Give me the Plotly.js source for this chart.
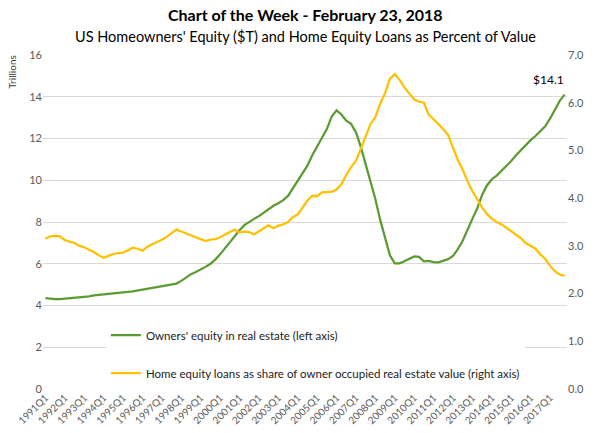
<!DOCTYPE html>
<html>
<head>
<meta charset="utf-8">
<script src="https://cdn.plot.ly/plotly-3.0.1.min.js"></script>
<style>
  html, body { margin: 0; padding: 0; background: #fff; }
  #plot { width: 600px; height: 433px; }
</style>
</head>
<body>
<div id="plot"></div>
<script>
// quarters 1991Q1 .. 2017Q4
const firstYear = 1991;
const lastYear = 2017;
let quarters = [];
for (let y = firstYear; y <= lastYear; y++) {
    for (let q = 1; q <= 4; q++) quarters.push(y + 'Q' + q);
}
const tickQuarters = quarters.filter(q => q.endsWith('Q1'));

// owners' equity in real estate, trillions $ (left axis)
const ownersEquity = [
    4.35, 4.32, 4.30, 4.31, 4.33, 4.35, 4.37, 4.41, 4.40, 4.44,
    4.48, 4.50, 4.53, 4.57, 4.59, 4.61, 4.62, 4.65, 4.68, 4.72,
    4.76, 4.80, 4.84, 4.87, 4.90, 4.95, 5.00, 5.05, 5.18, 5.35,
    5.50, 5.60, 5.72, 5.85, 6.00, 6.20, 6.45, 6.75, 7.05, 7.35,
    7.60, 7.85, 8.02, 8.15, 8.28, 8.45, 8.62, 8.78, 8.90, 9.05,
    9.25, 9.60, 9.95, 10.35, 10.70, 11.20, 11.60, 12.00, 12.45, 13.05,
    13.35, 13.15, 12.85, 12.70, 12.30, 11.60, 10.75, 9.95, 9.10, 8.10,
    7.20, 6.40, 6.02, 6.02, 6.12, 6.22, 6.35, 6.33, 6.12, 6.14,
    6.08, 6.07, 6.15, 6.22, 6.37, 6.70, 7.10, 7.65, 8.15, 8.65,
    9.30, 9.75, 10.05, 10.22, 10.45, 10.68, 10.92, 11.20, 11.45, 11.70,
    11.92, 12.12, 12.33, 12.58, 12.95, 13.35, 13.80, 14.10
];

// home equity loans as % of owner occupied real estate value (right axis)
const equityLoansPct = [
    3.15, 3.20, 3.21, 3.20, 3.12, 3.09, 3.06, 3.00, 2.97, 2.92,
    2.87, 2.80, 2.75, 2.79, 2.83, 2.85, 2.86, 2.91, 2.96, 2.94,
    2.90, 2.98, 3.03, 3.07, 3.13, 3.19, 3.27, 3.34, 3.30, 3.26,
    3.22, 3.18, 3.15, 3.10, 3.13, 3.14, 3.18, 3.24, 3.29, 3.34,
    3.28, 3.30, 3.29, 3.24, 3.30, 3.37, 3.43, 3.37, 3.42, 3.45,
    3.50, 3.60, 3.66, 3.80, 3.95, 4.05, 4.04, 4.12, 4.12, 4.13,
    4.18, 4.29, 4.48, 4.65, 4.78, 5.05, 5.30, 5.55, 5.70, 5.98,
    6.20, 6.50, 6.60, 6.48, 6.32, 6.20, 6.07, 6.02, 6.00, 5.75,
    5.65, 5.57, 5.45, 5.32, 5.05, 4.80, 4.60, 4.35, 4.15, 3.98,
    3.80, 3.67, 3.57, 3.50, 3.45, 3.38, 3.30, 3.22, 3.16, 3.06,
    3.00, 2.94, 2.82, 2.73, 2.58, 2.47, 2.40, 2.37
];

const leftTicks = [0, 2, 4, 6, 8, 10, 12, 14, 16];
const rightTicks = [0, 1, 2, 3, 4, 5, 6, 7];

const font = 'Lato, "Open Sans", sans-serif';
const green = '#5b9b31';
const gold = '#ffc000';

let equityTrace = {
    x: quarters,
    y: ownersEquity,
    type: 'scatter',
    mode: 'lines',
    name: "Owners' equity in real estate (left axis)",
    line: {color: green, width: 2.25},
    legendgroup: 'a',
    hoverinfo: 'x+y'
};
let loansTrace = {
    x: quarters,
    y: equityLoansPct,
    type: 'scatter',
    mode: 'lines',
    yaxis: 'y2',
    name: 'Home equity loans as share of owner occupied real estate value (right axis)',
    line: {color: gold, width: 2.25},
    legendgroup: 'b',
    hoverinfo: 'x+y'
};

let last = quarters.length - 1;

let layout = {
    width: 600,
    height: 433,
    paper_bgcolor: '#fff',
    plot_bgcolor: '#fff',
    font: {family: font, color: '#595959', size: 11},
    margin: {l: 43, r: 33, t: 55, b: 44},
    showlegend: true,
    legend: {
        x: 0.12, y: 0.205, xanchor: 'left', yanchor: 'top',
        bgcolor: '#fff',
        font: {family: font, size: 11.5, color: '#222'},
        traceorder: 'grouped',
        tracegroupgap: 19,
        itemwidth: 30
    },
    xaxis: {
        type: 'category',
        range: [-0.5, last + 0.5],
        tickvals: tickQuarters,
        ticktext: tickQuarters,
        tickangle: -45,
        tickfont: {size: 10, color: '#595959'},
        showgrid: false,
        showline: false,
        ticks: '',
        zeroline: false
    },
    yaxis: {
        range: [0, 16],
        tickvals: leftTicks,
        showgrid: true,
        gridcolor: '#d9d9d9',
        gridwidth: 1,
        zeroline: false,
        showline: false,
        ticks: '',
        tickfont: {size: 11, color: '#595959'}
    },
    yaxis2: {
        overlaying: 'y',
        side: 'right',
        range: [0, 7],
        tickvals: rightTicks,
        tickformat: '.1f',
        ticksuffix: '%',
        showgrid: false,
        zeroline: false,
        showline: false,
        ticks: '',
        tickfont: {size: 11, color: '#595959'}
    },
    annotations: [
        {
            text: '<b>Chart of the Week - February 23, 2018</b>',
            xref: 'paper', yref: 'paper', x: 0.5, y: 1, yshift: 41,
            xanchor: 'center', yanchor: 'middle', showarrow: false,
            font: {family: font, size: 16, color: '#000'}
        },
        {
            text: "US Homeowners' Equity ($T) and Home Equity Loans as Percent of Value",
            xref: 'paper', yref: 'paper', x: 0.5, y: 1, yshift: 19,
            xanchor: 'center', yanchor: 'middle', showarrow: false,
            font: {family: font, size: 14.5, color: '#000'}
        },
        {
            text: 'Trillions',
            xref: 'paper', yref: 'paper', x: 0, xshift: -31, y: 0.95,
            textangle: -90, xanchor: 'center', yanchor: 'middle', showarrow: false,
            font: {family: font, size: 10, color: '#404040'}
        },
        {
            text: '$' + ownersEquity[last].toFixed(1),
            x: quarters[last], y: ownersEquity[last],
            xref: 'x', yref: 'y',
            xshift: -16, yshift: 15, showarrow: false,
            font: {family: font, size: 12, color: '#000'}
        }
    ]
};

Plotly.newPlot('plot', [equityTrace, loansTrace], layout, {displayModeBar: false, staticPlot: true});
</script>
</body>
</html>
